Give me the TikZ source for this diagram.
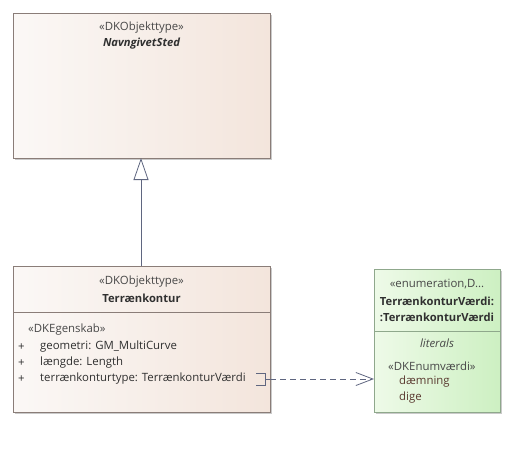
\documentclass[tikz,border=0pt]{standalone}
\usepackage{fontspec}
\setmainfont{Open Sans}
\usetikzlibrary{arrows.meta,shadows}
\definecolor{bordc}{HTML}{8A7D78}
\definecolor{fillL}{HTML}{FBF8F6}
\definecolor{fillR}{HTML}{F3E5DC}
\definecolor{gfillL}{HTML}{EEFAE8}
\definecolor{gfillR}{HTML}{CDF0C2}
\definecolor{gbord}{HTML}{8FA88C}
\definecolor{txt}{HTML}{303030}
\definecolor{stereo}{HTML}{484848}
\definecolor{lit}{HTML}{5A3A30}
\definecolor{linec}{HTML}{5F6680}
\tikzset{
  umlbox/.style={draw=bordc, line width=0.8pt, left color=fillL, right color=fillR, drop shadow={shadow xshift=2pt, shadow yshift=-2pt, fill=black!35, opacity=0.6}},
  enumbox/.style={draw=gbord, line width=0.8pt, left color=gfillL, right color=gfillR, drop shadow={shadow xshift=2pt, shadow yshift=-2pt, fill=black!35, opacity=0.6}},
  lbl/.style={font=\fontsize{11.4}{13}\selectfont, text=txt, inner sep=0pt},
  bl/.style={lbl, font=\fontsize{11.2}{13}\selectfont\bfseries},
  st/.style={lbl, text=stereo},
  conn/.style={draw=linec, line width=0.8pt}
}
\begin{document}
\begin{tikzpicture}[x=1pt,y=-1pt]
\useasboundingbox (0,0) rectangle (512,448);
% box 1
\path[umlbox] (13,13) rectangle (270,158);
\node[st] (s1) at (141.5,28) {«DKObjekttype»};
\node[bl,font=\fontsize{11.2}{13}\selectfont\bfseries\itshape] (n1) at (141.5,44) {NavngivetSted};
\coordinate (b1bot) at (141,158);
% box 2
\path[umlbox] (13,266) rectangle (270,412);
\draw[bordc, line width=0.8pt] (13,312) -- (270,312);
\coordinate (b2top) at (141,266);
\node[st] (s2) at (141.5,282) {«DKObjekttype»};
\node[bl] (n2) at (141.5,298) {Terrænkontur};
\node[st,anchor=west] (e2) at (28,330) {«DKEgenskab»};
\node[lbl,anchor=west] (p1) at (18,347) {+};
\node[lbl,anchor=west] (p2) at (18,363) {+};
\node[lbl,anchor=west] (p3) at (18,379) {+};
\node[lbl,anchor=west] (a1) at (40,347) {geometri: GM\_MultiCurve};
\node[lbl,anchor=west] (a2) at (40,363) {længde: Length};
\node[lbl,anchor=west] (a3) at (40,379) {terrænkonturtype: TerrænkonturVærdi};
\draw[linec, line width=0.8pt] (256,373) -- (265,373) -- (265,385) -- (256,385);
\draw[linec, line width=0.8pt] (265,379) -- (270,379);
\coordinate (dstart) at (270,379);
% box 3
\path[enumbox] (374,269) rectangle (500,412);
\draw[gbord, line width=0.8pt] (374,331) -- (500,331);
\node[st] (s3) at (437,284) {«enumeration,D...};
\node[bl] (n3a) at (437,301) {TerrænkonturVærdi:};
\node[bl] (n3b) at (437,317) {:TerrænkonturVærdi};
\node[st,font=\fontsize{11.4}{13}\selectfont\itshape] (l3) at (437,343) {literals};
\node[st,anchor=west] (e3) at (388,366) {«DKEnumværdi»};
\node[lbl,text=lit,anchor=west] (v1) at (399,382) {dæmning};
\node[lbl,text=lit,anchor=west] (v2) at (399,398) {dige};
\coordinate (dend) at (374,379);
% connectors
\draw[conn, -{Triangle[open, length=22pt, width=15pt, fill=white]}] (b2top) -- (b1bot);
\draw[conn, dashed, dash pattern=on 6pt off 4pt, -{Straight Barb[length=17pt, width=13pt]}] (dstart) -- (dend);
\end{tikzpicture}
\end{document}
